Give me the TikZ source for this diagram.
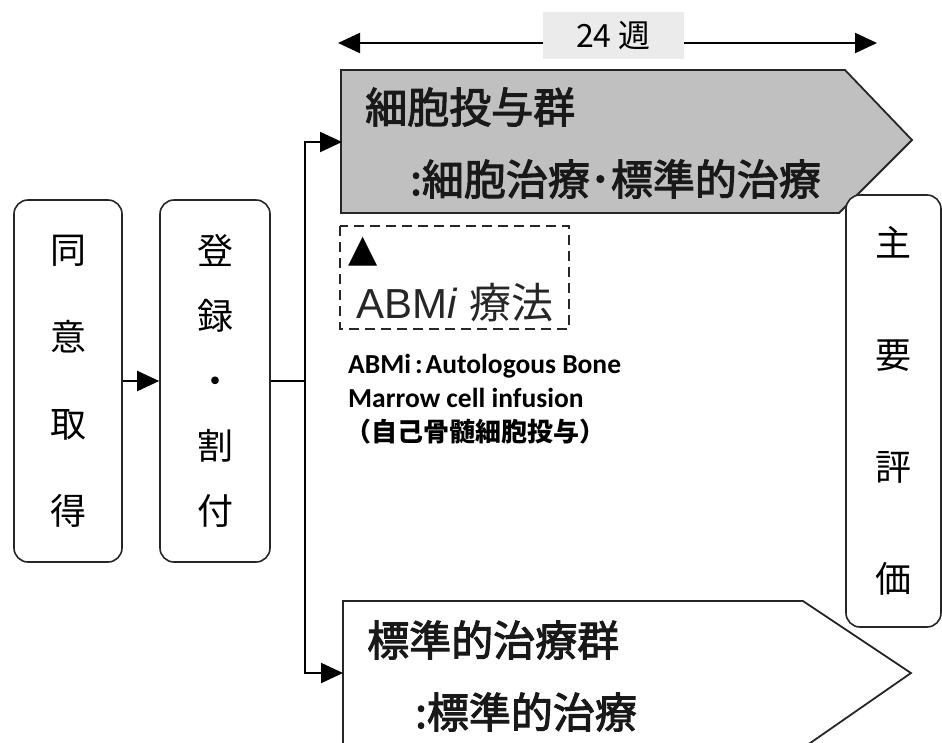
\documentclass[tikz,border=0pt]{standalone}
\usepackage{fontspec}
\setmainfont{Liberation Sans}
\newfontfamily\cjk{Noto Sans CJK JP}
\newfontfamily\cjkmid[FakeBold=2.5]{Noto Sans CJK JP}
\newfontfamily\calib{Carlito}
\newfontfamily\symb{DejaVu Sans}
\usetikzlibrary{calc,arrows.meta}
\definecolor{groupgray}{HTML}{C0C0C0}
\definecolor{tagfill}{HTML}{EBEBEB}
\tikzset{
  stepbox/.style={draw=black!85, line width=1.6pt, rounded corners=14pt, fill=white,
    inner sep=0pt, align=center, font=\cjk\fontsize{36}{87}\selectfont},
  group/.style={draw=black!85, line width=1.8pt, line join=miter},
  flow/.style={draw=black, line width=2.2pt},
  arrow/.style={-{Triangle[length=22pt,width=20pt]}, draw=black, line width=2.2pt},
  grouplabel/.style={anchor=west, inner sep=0pt, text=black!90, font=\cjkmid\fontsize{42}{50}\selectfont},
  note/.style={anchor=base west, inner sep=0pt, font=\calib\bfseries\fontsize{27.5}{33}\selectfont},
  tag/.style={fill=tagfill, inner sep=0pt, minimum width=141pt, minimum height=47pt,
    font=\cjk\fontsize{32}{38}\selectfont}
}

\begin{document}
\begin{tikzpicture}[x=1pt,y=-1pt]
  \useasboundingbox (0,0) rectangle (942,742);

  % left steps
  \node[stepbox, minimum width=108pt, minimum height=362pt] (consent) at (68,381) {同\\意\\取\\得};
  \node[stepbox, minimum width=110pt, minimum height=362pt, font=\cjk\fontsize{36}{65}\selectfont]
    (regist) at (215,381) {登\\録\\・\\割\\付};
  \draw[arrow] (consent) -- (regist);

  % groups
  \coordinate (trunk) at (305,381);
  \coordinate (topIn) at (342,142);
  \coordinate (botIn) at (343,673);
  \draw[group, fill=groupgray] (341,70) -- (845,70) -- (912,140) -- (839,213) -- (341,213) -- cycle;
  \draw[group, fill=white] (343,748) -- (343,601) -- (803,601) -- (911,673) -- (803,748);
  \draw[flow] (regist) -- (trunk);
  \draw[arrow] (trunk) |- (topIn);
  \draw[arrow] (trunk) |- (botIn);

  \node[grouplabel] (cellA) at (365,107) {細胞投与群};
  \node[grouplabel] (cellB) at (410,179) {:細胞治療･標準的治療};
  \node[grouplabel] (stdA) at (367,640) {標準的治療群};
  \node[grouplabel] (stdB) at (415,712) {:標準的治療};

  % 24 weeks
  \coordinate (wkL) at (338,43);
  \coordinate (wkR) at (877,43);
  \node[tag] (weeks) at (613.5,35.5) {24 週};
  \draw[arrow] (weeks.west |- wkL) -- (wkL);
  \draw[arrow] (weeks.east |- wkR) -- (wkR);

  % ABMi
  \draw[draw=black!85, line width=1.8pt, dash pattern=on 10pt off 6pt] (340,226) rectangle (569,329);
  \node[inner sep=0pt, font=\symb\fontsize{38}{44}\selectfont] (tri) at (363,252) {▲};
  \node[anchor=base west, inner sep=0pt, font=\fontsize{42}{50}\selectfont, text=black!85]
    (abmi) at (356,318) {ABM\textit{i} {\cjk\fontsize{42}{50}\selectfont 療法}};
  \node[note] (defA) at (348,373) {ABMi\hspace{4pt}:\hspace{3pt}Autologous Bone};
  \node[note] (defB) at (348,407) {Marrow cell infusion};
  \node[note, font=\cjk\bfseries\fontsize{26}{33}\selectfont] (defC) at (345,441) {（自己骨髄細胞投与）};

  % main evaluation
  \node[stepbox, minimum width=95pt, minimum height=432pt, font=\cjk\fontsize{36}{112}\selectfont]
    (eval) at (893.5,411) {主\\要\\評\\価};
\end{tikzpicture}
\end{document}
